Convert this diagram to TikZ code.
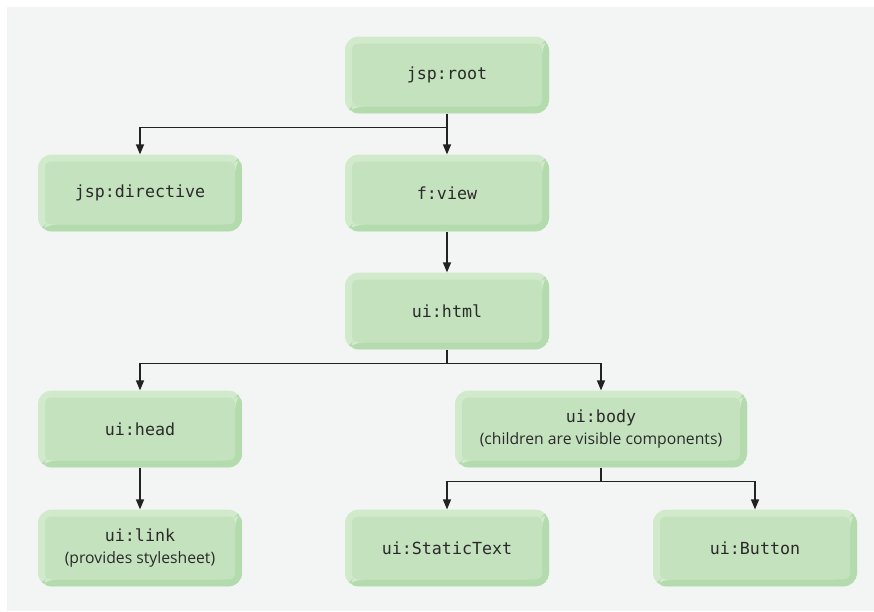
\documentclass[tikz,border=0pt]{standalone}
\usepackage{fontspec}
\setmonofont{DejaVu Sans Mono}
\setsansfont{Open Sans}
\usepackage{xcolor}
\usetikzlibrary{arrows.meta,positioning,calc}

\definecolor{panel}{HTML}{F3F5F5}
\definecolor{boxrim}{HTML}{D1EACB}
\definecolor{boxfill}{HTML}{C4E2BE}
\definecolor{boxdark}{HTML}{B3DBAE}
\definecolor{inkline}{HTML}{222222}
\definecolor{inktext}{HTML}{2A2A2A}

\tikzset{
  tagbox/.style={rectangle, rounded corners=10pt, fill=boxrim,
    minimum width=153pt, minimum height=57.5pt, align=center,
    text=inktext, font=\fontsize{12.5}{17}\selectfont\ttfamily,
    path picture={
      \fill[boxdark] (path picture bounding box.north east)
        -- (path picture bounding box.south east)
        -- (path picture bounding box.south west)
        -- ($(path picture bounding box.south west)+(7,7)$)
        -- ($(path picture bounding box.south east)+(-7,7)$)
        -- ($(path picture bounding box.north east)+(-7,-7)$) -- cycle;
      \fill[boxfill, rounded corners=4pt]
        ($(path picture bounding box.north west)+(7,-7)$)
        rectangle ($(path picture bounding box.south east)+(-7,7)$);
    }},
  arr/.style={draw=inkline, line width=1pt, -{Triangle[length=7.5pt,width=6pt]}}
}
\newcommand{\tagnote}[1]{{\fontsize{11.8}{17}\selectfont\sffamily #1}}

\begin{document}
\begin{tikzpicture}[x=0.75pt, y=0.75pt]
\useasboundingbox (0,0) rectangle (874,-611);
\fill[panel] (7,-7) rectangle (874,-611);

\node[tagbox] (root) at (447,-75) {jsp:root};
\node[tagbox] (directive) at (140,-193) {jsp:directive};
\node[tagbox] (view) at (447,-193) {f:view};
\node[tagbox] (html) at (447,-311) {ui:html};
\node[tagbox] (head) at (140,-429) {ui:head};
\node[tagbox, minimum width=219pt] (body) at (601,-429)
  {ui:body\\\tagnote{(children are visible components)}};
\node[tagbox] (link) at (140,-548)
  {ui:link\\\tagnote{(provides stylesheet)}};
\node[tagbox] (static) at (447,-548) {ui:StaticText};
\node[tagbox] (button) at (755,-548) {ui:Button};

\draw[arr] (root.south) -- ++(0,-14) -| (directive.north);
\draw[arr] (root) -- (view);
\draw[arr] (view) -- (html);
\draw[arr] (html.south) -- ++(0,-14) -| (head.north);
\draw[arr] (html.south) -- ++(0,-14) -| (body.north);
\draw[arr] (head) -- (link);
\draw[arr] (body.south) -- ++(0,-14) -| (static.north);
\draw[arr] (body.south) -- ++(0,-14) -| (button.north);

\end{tikzpicture}
\end{document}
